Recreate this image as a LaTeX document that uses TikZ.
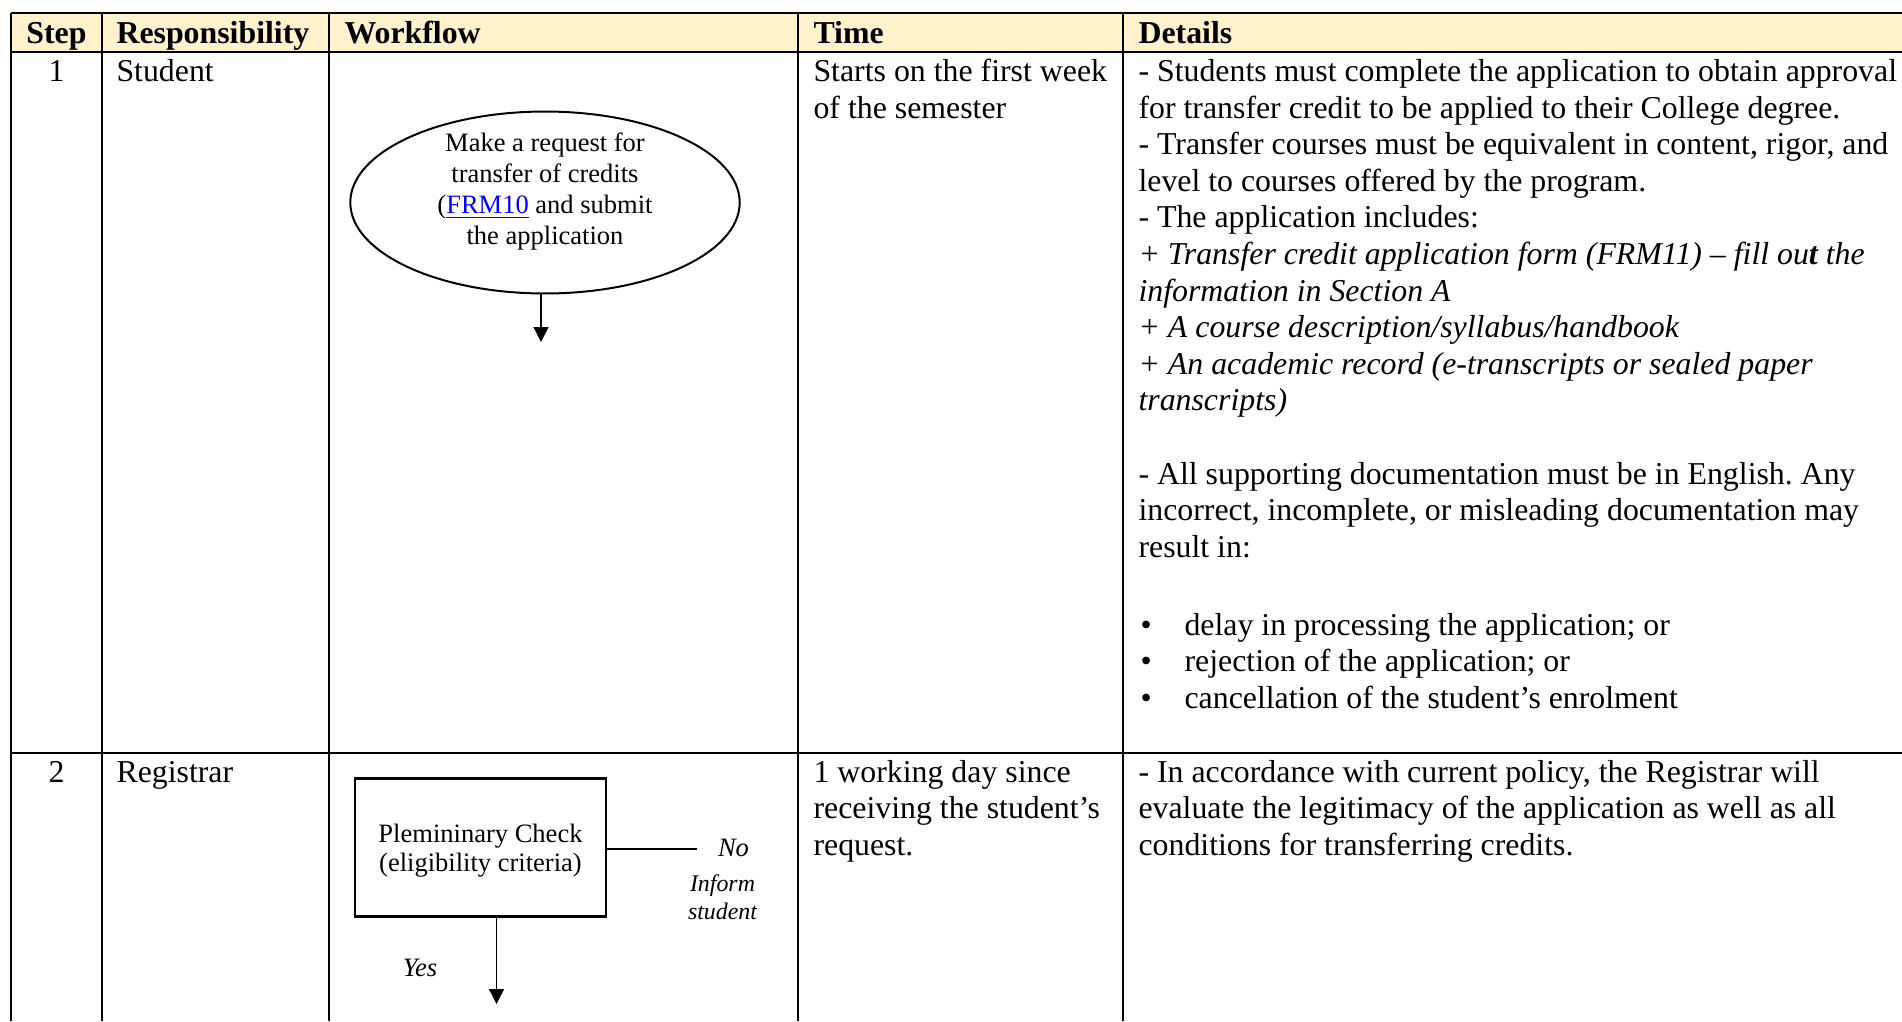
\documentclass[tikz,border=0pt]{standalone}
\usepackage{fontspec}
\setmainfont{Liberation Serif}
\usetikzlibrary{shapes.geometric,arrows.meta}
\definecolor{headfill}{HTML}{FFF2CC}
\definecolor{linkblue}{HTML}{0000FF}
\newcommand{\itembul}{\makebox[16.6pt][l]{\textbullet}}
\newcommand{\wordspace}{\frenchspacing\spaceskip=0.25em plus 0.1em\xspaceskip=0.25em plus 0.1em\relax}
\tikzset{rule/.style={line width=0.9pt},
head/.style={anchor=base west, inner sep=0pt, font=\bfseries\fontsize{12}{13.8}\selectfont},
num/.style={anchor=base, inner sep=0pt, font=\fontsize{12}{13.8}\selectfont},
cell/.style={anchor=base west, inner sep=0pt, align=left, text width=#1, font=\fontsize{12}{13.8}\selectfont, execute at begin node=\wordspace},
%default width fits the widest column
cell/.default={296pt},
oval/.style={ellipse, draw, line width=0.75pt, minimum width=146.8pt, minimum height=68.6pt, inner sep=0pt},
chkbox/.style={rectangle, draw, line width=1pt, minimum width=94.6pt, minimum height=52pt},
wftext/.style={inner sep=0pt, align=center, font=\fontsize{10}{#1}\selectfont, execute at begin node=\wordspace},
wftext/.default={11.6},
flow/.style={-{Triangle[width=5.6pt,length=5.6pt]}, line width=0.5pt},
note/.style={anchor=base, inner sep=0pt, align=center, font=\itshape\fontsize{#1}{10.3}\selectfont},
note/.default={10}}

\begin{document}
\begin{tikzpicture}[x=0.377pt, y=-0.377pt]
    \useasboundingbox (0,0) rectangle (1902,1021);
    \fill[headfill] (11,13) rectangle (1902,52);
    \draw[rule] (11,13) -- (1902,13) (11,52) -- (1902,52) (11,753) -- (1902,753);
    \foreach \x in {11,102,329,798,1123}
        \draw[rule] (\x,13) -- (\x,1021);

    \node[num, font=\bfseries\fontsize{12}{13.8}\selectfont] (hstep) at (56.5,43) {Step};
    \node[head] (hresp) at (116,43) {Responsibility};
    \node[head] (hflow) at (344,43) {Workflow};
    \node[head] (htime) at (813,43) {Time};
    \node[head] (hdet) at (1138,43) {Details};

    \node[num] (s1) at (56.5,81.5) {1};
    \node[cell=70pt] (r1) at (116,81.5) {Student};
    \node[cell=116pt] (t1) at (813,81.5) {Starts on the first week\\of the semester};
    \node[cell] (d1) at (1138,81.5) {- Students must complete the application to obtain approval\\
        for transfer credit to be applied to their College degree.\\
        - Transfer courses must be equivalent in content, rigor, and\\
        level to courses offered by the program.\\
        - The application includes:\\
        \textit{+ Transfer credit application form (FRM11) -- fill ou\textbf{t} the}\\
        \textit{information in Section A}\\
        \textit{+ A course description/syllabus/handbook}\\
        \textit{+ An academic record (e-transcripts or sealed paper}\\
        \textit{transcripts)}\\[13.8pt]
        - All supporting documentation must be in English. Any\\
        incorrect, incomplete, or misleading documentation may\\
        result in:};
    \node[cell] (d1list) at (1140,635) {\itembul delay in processing the application; or\\
        \itembul rejection of the application; or\\
        \itembul cancellation of the student's enrolment};

    \node[oval] (req) at (545,202.5) {};
    \node[wftext, yshift=4.15pt] (reqtxt) at (req) {Make a request for\\transfer of credits\\(\textcolor{linkblue}{\underline{FRM10}} and submit\\the application};
    \coordinate (reqend) at (541,342);
    \draw[flow] (reqend |- req.south) -- (reqend);

    \node[num] (s2) at (56.5,782) {2};
    \node[cell=70pt] (r2) at (116,782) {Registrar};
    \node[cell=116pt] (t2) at (813,782) {1 working day since\\receiving the student's\\request.};
    \node[cell] (d2) at (1138,782) {- In accordance with current policy, the Registrar will\\
        evaluate the legitimacy of the application as well as all\\
        conditions for transferring credits.};

    \node[chkbox] (check) at (480.5,847.5) {};
    \node[wftext=11.1, yshift=-1.1pt] (chktxt) at (check) {Plemininary Check\\(eligibility criteria)};
    \coordinate (noend) at (697,849);
    \draw[line width=0.5pt] (check.east |- noend) -- (noend);
    \node[note] (no) at (733.5,856) {No};
    \node[note=9] (inform) at (722.5,919) {Inform\\student};
    \coordinate (yesend) at (496.5,1004);
    \draw[flow] (check.south -| yesend) -- (yesend);
    \node[note] (yes) at (420,976.5) {Yes};
\end{tikzpicture}
\end{document}
